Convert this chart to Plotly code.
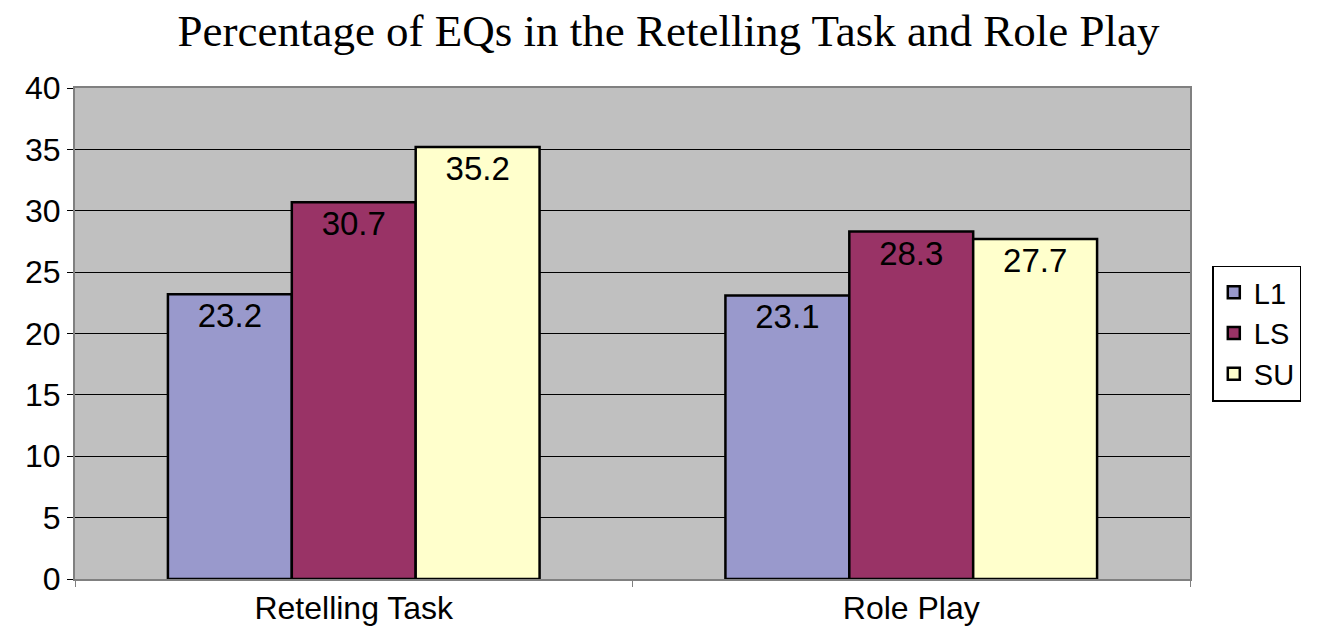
import plotly.graph_objects as go

categories = ["Retelling Task", "Role Play"]
series_names = ["L1", "LS", "SU"]
L1 = [23.2, 23.1]
LS = [30.7, 28.3]
SU = [35.2, 27.7]
colors = ["#9999CC", "#993366", "#FFFFCC"]

fig = go.Figure()
for name, vals, c in zip(series_names, [L1, LS, SU], colors):
    fig.add_trace(go.Bar(
        x=categories, y=vals, name=name, marker_color=c,
        marker_line_color="black", marker_line_width=2.5,
        text=[f"{v:.1f}" for v in vals], textposition="inside",
        insidetextanchor="end", textangle=0,
        textfont=dict(family="Liberation Sans, Arial", size=33, color="black"),
    ))

fig.update_layout(
    width=1321, height=630,
    margin=dict(l=67, r=139, t=80, b=57),
    paper_bgcolor="white", plot_bgcolor="#C0C0C0",
    barmode="group", bargap=1/3, bargroupgap=0,
    title=dict(text="Percentage of EQs in the Retelling Task and Role Play",
               x=0.5, xanchor="center", y=0.965, yanchor="middle",
               font=dict(family="Liberation Serif, Times New Roman", size=45, color="black")),
    font=dict(family="Liberation Sans, Arial", size=32, color="black"),
    legend=dict(x=1.02, y=0.5, yanchor="middle", xanchor="left",
                bordercolor="black", borderwidth=1.5, bgcolor="white",
                font=dict(size=29), traceorder="normal"),
    uniformtext=dict(minsize=30, mode="show"),
)
fig.update_yaxes(range=[0, 40], dtick=5, showgrid=True, gridcolor="black", gridwidth=1,
                 ticks="outside", ticklen=6, tickcolor="black",
                 showline=True, linecolor="gray", linewidth=2, mirror=True, zeroline=False)
fig.update_xaxes(tickson="boundaries", ticks="outside", ticklen=6, tickcolor="gray",
                 showline=True, linecolor="gray", linewidth=2, mirror=True)
fig.write_html("out.html")
